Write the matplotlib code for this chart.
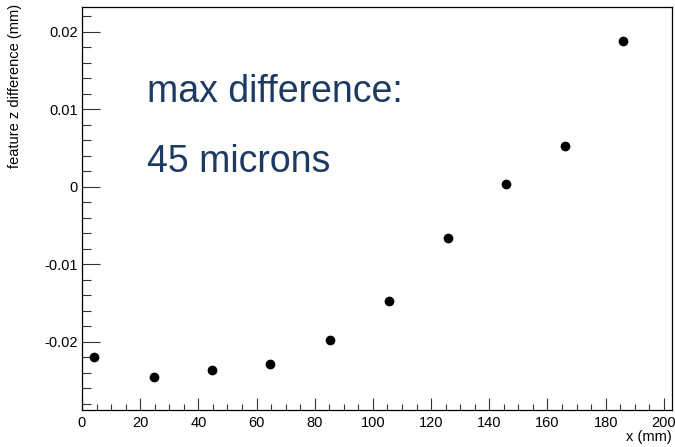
import matplotlib
matplotlib.use("Agg")
import matplotlib.pyplot as plt
from matplotlib.ticker import MultipleLocator

# point positions (mm) and z differences (mm)
x_mm = [4.2, 24.6, 44.7, 64.7, 85.3, 105.5, 125.7, 145.8, 165.9, 186.1]
dz_mm = [-0.0219, -0.0245, -0.0236, -0.0228, -0.0198,
         -0.0147, -0.0066, 0.0003, 0.0052, 0.0188]

note_lines = ["max difference:", "45 microns"]

plt.rcParams['font.family'] = ['Liberation Sans', 'DejaVu Sans']

fig = plt.figure(figsize=(6.75, 4.47), dpi=100)
ax = fig.add_axes([82 / 675, 1 - 410 / 447, 590 / 675, 403 / 447])

ax.plot(x_mm, dz_mm, 'o', color='black', ms=6, mec='black')

ax.set_xlim(0, 202.8)
ax.set_ylim(-0.02878, 0.02316)

# ROOT-like ticks: inside, only on left and bottom
ax.xaxis.set_major_locator(MultipleLocator(20))
ax.xaxis.set_minor_locator(MultipleLocator(5))
ax.yaxis.set_major_locator(MultipleLocator(0.01))
ax.yaxis.set_minor_locator(MultipleLocator(0.002))
ax.yaxis.set_major_formatter(plt.FuncFormatter(lambda v, p: '0' if abs(v) < 1e-9 else f'{v:g}'))
ax.tick_params(axis='both', which='both', direction='in', top=False, right=False,
               labelsize=10.5, width=0.8, color='#333333')
ax.tick_params(axis='y', which='major', length=13, pad=3)
ax.tick_params(axis='y', which='minor', length=6.5)
ax.tick_params(axis='x', which='major', length=9, pad=4)
ax.tick_params(axis='x', which='minor', length=4.5)
for s in ax.spines.values():
    s.set_linewidth(0.9)

fig.text(15 / 675, 1 - 4 / 447, 'feature z difference (mm)', rotation=90,
         ha='center', va='top', fontsize=10.5)
fig.text(672 / 675, 1 - 437 / 447, 'x (mm)', ha='right', va='center', fontsize=10.5)

ax.text(0.110, 0.764, note_lines[0], transform=ax.transAxes, fontsize=27,
        color='#1d3a63', va='baseline', ha='left')
ax.text(0.110, 0.591, note_lines[1], transform=ax.transAxes, fontsize=27,
        color='#1d3a63', va='baseline', ha='left')

fig.savefig('out.png', dpi=100)
